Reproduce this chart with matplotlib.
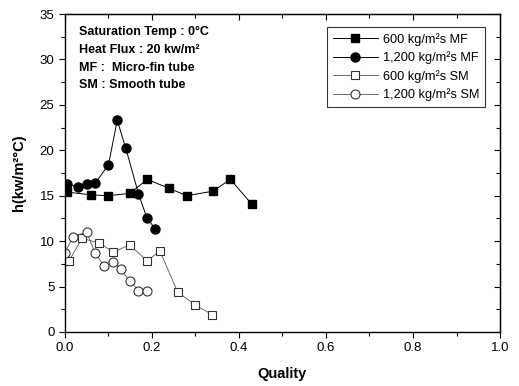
import numpy as np
import matplotlib
matplotlib.use("Agg")
import matplotlib.pyplot as plt
from matplotlib.ticker import NullFormatter, FormatStrFormatter

plt.rcParams['font.family'] = ['Liberation Sans', 'DejaVu Sans']

# quality / heat transfer coefficient
q_mf600 = [0.005, 0.059, 0.098, 0.149, 0.189, 0.24, 0.28, 0.34, 0.38, 0.429]
h_mf600 = [15.4, 15.1, 15.0, 15.25, 16.8, 15.8, 15.0, 15.5, 16.8, 14.1]

q_mf1200 = [0.005, 0.029, 0.05, 0.069, 0.10, 0.12, 0.14, 0.169, 0.188, 0.208]
h_mf1200 = [16.3, 16.0, 16.3, 16.35, 18.4, 23.3, 20.2, 15.2, 12.6, 11.3]

q_sm600 = [0.009, 0.039, 0.079, 0.111, 0.149, 0.189, 0.218, 0.259, 0.30, 0.339]
h_sm600 = [7.8, 10.3, 9.8, 8.8, 9.6, 7.8, 8.95, 4.4, 2.95, 1.9]

q_sm1200 = [0.0, 0.019, 0.05, 0.069, 0.09, 0.111, 0.128, 0.149, 0.169, 0.189]
h_sm1200 = [8.75, 10.5, 11.0, 8.7, 7.25, 7.7, 6.9, 5.65, 4.55, 4.5]

labels = ['600 kg/m\u00b2s MF', '1,200 kg/m\u00b2s MF',
          '600 kg/m\u00b2s SM', '1,200 kg/m\u00b2s SM']

x_major = np.arange(0, 1.01, 0.2)
x_minor = np.arange(0.1, 1.0, 0.2)
y_major = np.arange(0, 36, 5)
y_minor = np.arange(2.5, 35, 5)

fig = plt.figure(figsize=(5.19, 3.86), dpi=100)
ax = fig.add_axes([0.1252, 0.1399, 0.8382, 0.8238])

ax.plot(q_mf600, h_mf600, color='black', lw=0.7, marker='s', ms=5.5,
        mfc='black', mec='black', label=labels[0])
ax.plot(q_mf1200, h_mf1200, color='black', lw=0.7, marker='o', ms=6.5,
        mfc='black', mec='black', label=labels[1])
ax.plot(q_sm600, h_sm600, color='#555555', lw=0.6, marker='s', ms=6,
        mfc='white', mec='#333333', mew=0.8, label=labels[2])
ax.plot(q_sm1200, h_sm1200, color='#555555', lw=0.6, marker='o', ms=6.5,
        mfc='white', mec='#333333', mew=0.8, label=labels[3])

ax.set_xlim(0, 1.0)
ax.set_ylim(0, 35)
ax.set_xticks(x_major)
ax.set_xticks(x_minor, minor=True)
ax.set_yticks(y_major)
ax.set_yticks(y_minor, minor=True)
ax.xaxis.set_major_formatter(FormatStrFormatter('%.1f'))
ax.tick_params(which='both', direction='out', labelsize=9.5, width=0.8)
ax.tick_params(which='major', length=4)
ax.tick_params(which='minor', length=3)

# ticks on top/right pointing inward, no labels
top = ax.secondary_xaxis('top')
top.set_xticks(x_major)
top.set_xticks(x_minor, minor=True)
top.xaxis.set_major_formatter(NullFormatter())
top.tick_params(which='both', direction='in', width=0.8)
top.tick_params(which='major', length=4)
top.tick_params(which='minor', length=3)
right = ax.secondary_yaxis('right')
right.set_yticks(y_major)
right.set_yticks(y_minor, minor=True)
right.yaxis.set_major_formatter(NullFormatter())
right.tick_params(which='both', direction='in', width=0.8)
right.tick_params(which='major', length=4)
right.tick_params(which='minor', length=3)

for s in ax.spines.values():
    s.set_linewidth(1.0)

ax.set_xlabel('Quality', fontsize=10.5, fontweight='bold', labelpad=9)
ax.set_ylabel('h(kw/m\u00b2\u00b0C)', fontsize=10.5, fontweight='bold', labelpad=10)

notes = ['Saturation Temp : 0\u00b0C', 'Heat Flux : 20 kw/m\u00b2',
         'MF :  Micro-fin tube', 'SM : Smooth tube']
for i, t in enumerate(notes):
    ax.text(0.033, 33.0 - i * 1.95, t, fontsize=9, fontweight='bold', va='center')

leg = ax.legend(loc='upper right', bbox_to_anchor=(0.9655, 0.959), fontsize=9.2,
                frameon=True, fancybox=False, edgecolor='black',
                handlelength=3.5, labelspacing=0.45, borderpad=0.45,
                handletextpad=0.4, borderaxespad=0)
leg.get_frame().set_linewidth(0.8)

fig.savefig('out.png', dpi=100)
